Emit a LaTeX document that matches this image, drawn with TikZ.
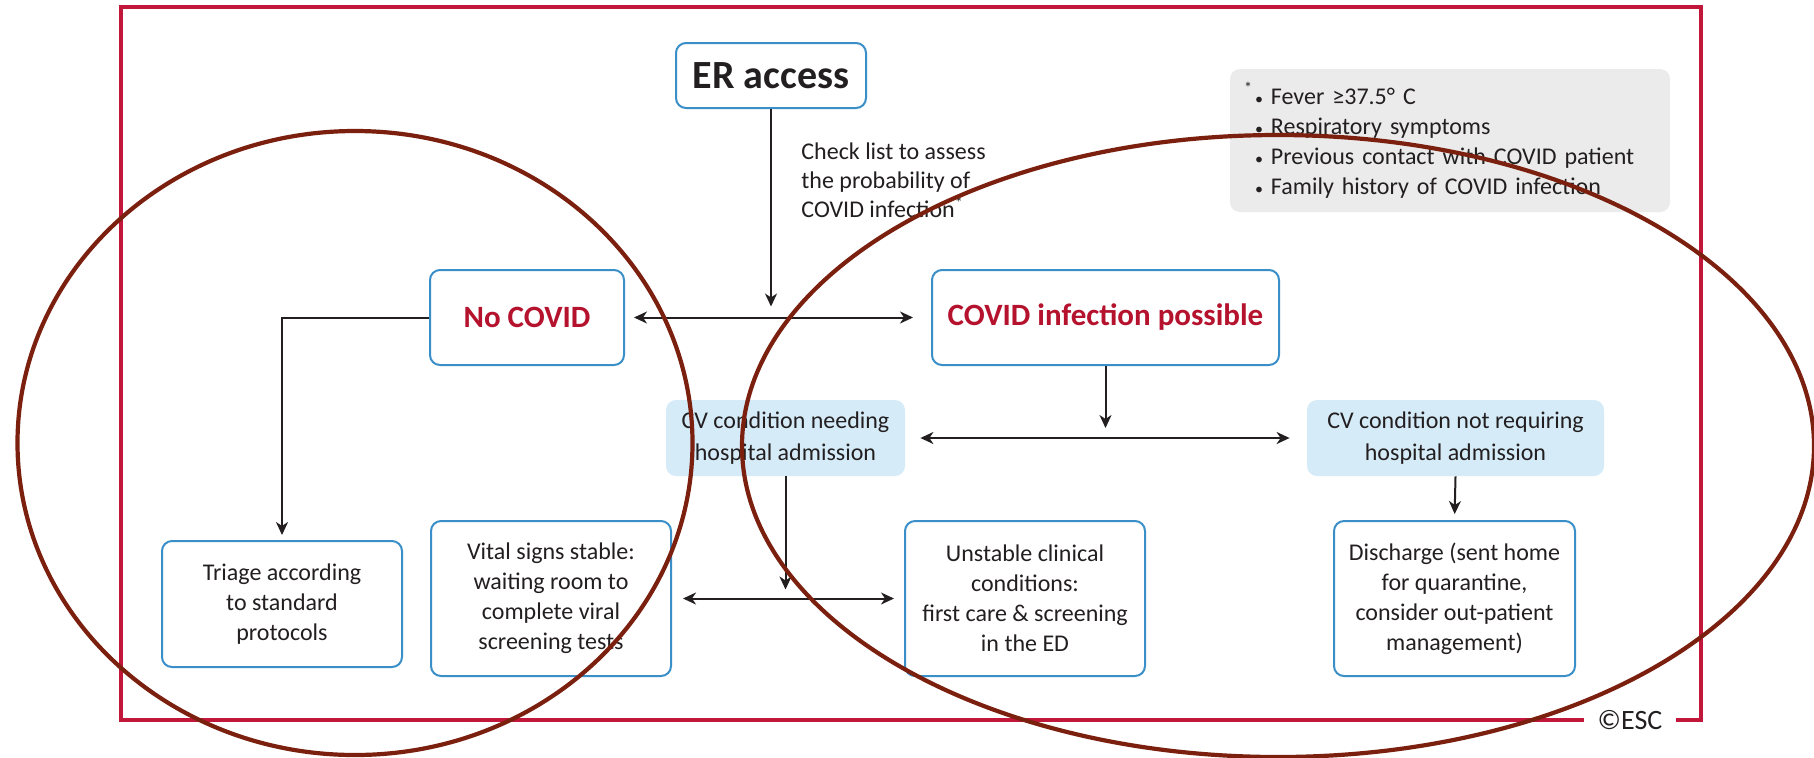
\documentclass[tikz,border=0pt]{standalone}
\usepackage{fontspec}
\setmainfont{Carlito}
\usetikzlibrary{arrows.meta}
\definecolor{framered}{HTML}{C0173A}
\definecolor{boxblue}{HTML}{3A8FC8}
\definecolor{cvblue}{HTML}{D5ECF8}
\definecolor{legendgray}{HTML}{EBEBEB}
\definecolor{titlered}{HTML}{B5122E}
\definecolor{txt}{HTML}{231F20}
\definecolor{ring}{HTML}{7B1F0E}
\begin{document}
\begin{tikzpicture}[x=0.5pt,y=-0.5pt,
  every node/.style={text=txt},
  bodyfont/.style={font=\fontsize{12}{15}\selectfont},
  box/.style={draw=boxblue, line width=1pt, rounded corners=5pt, fill=white, align=center, inner sep=0pt, bodyfont},
  cvbox/.style={fill=cvblue, rounded corners=5pt, align=center, inner sep=0pt, font=\fontsize{12}{16}\selectfont},
  titlebox/.style={draw=boxblue, line width=1pt, rounded corners=5pt, fill=white, inner sep=0pt, text=titlered, font=\fontsize{15.5}{18}\selectfont\bfseries},
  arr/.style={draw=txt, line width=1pt, -{Stealth[length=6.5pt,width=6pt,inset=2pt]}},
  darr/.style={draw=txt, line width=1pt, {Stealth[length=6.5pt,width=6pt,inset=2pt]}-{Stealth[length=6.5pt,width=6pt,inset=2pt]}},
  ringline/.style={draw=ring, line width=2.1pt}
]
\useasboundingbox (0,0) rectangle (1814,757);
\clip (0,0) rectangle (1814,757);
\fill[white] (0,0) rectangle (1814,757);

% frame
\draw[framered, line width=1.6pt] (121,7) rectangle (1701,720);
\node[fill=white, inner xsep=7pt, inner ysep=2pt, font=\fontsize{14}{16}\selectfont] (esc) at (1630,720) {©ESC};

% top
\node[draw=boxblue, line width=1pt, rounded corners=5pt, fill=white, minimum width=95pt, minimum height=32.5pt, inner sep=0pt, font=\fontsize{20}{22}\selectfont\bfseries] (er) at (771,75.5) {ER access};
\node[anchor=west, align=left, inner sep=0pt, font=\fontsize{12}{14.5}\selectfont] (check) at (801,180) {Check list to assess\\the probability of\\COVID infection\textsuperscript{*}};

\node[fill=legendgray, rounded corners=5pt, text width=206pt, inner xsep=7pt, minimum height=71.5pt, align=left, bodyfont] (legend) at (1450,140.5)
  {\makebox[5.5pt][l]{\raisebox{1pt}{\textsuperscript{*}}}{\footnotesize•} Fever ≥37.5° C\\
   \hspace*{5.5pt}{\footnotesize•} Respiratory symptoms\\
   \hspace*{5.5pt}{\footnotesize•} Previous contact with COVID patient\\
   \hspace*{5.5pt}{\footnotesize•} Family history of COVID infection};

% second row
\node[titlebox, minimum width=97pt, minimum height=47.5pt] (nocovid) at (527,317.5) {No COVID};
\node[titlebox, minimum width=173.5pt, minimum height=47.5pt] (covid) at (1105.5,317.5) {COVID infection possible};

% CV row
\node[cvbox, minimum width=119.5pt, minimum height=38pt] (cvneed) at (785.5,438) {CV condition needing\\hospital admission};
\node[cvbox, minimum width=148.5pt, minimum height=38pt] (cvnot) at (1455.5,438) {CV condition not requiring\\hospital admission};

% bottom row
\node[box, minimum width=120pt, minimum height=63pt] (triage) at (282,604) {Triage according\\to standard\\protocols};
\node[box, minimum width=120pt, minimum height=77.5pt] (vital) at (551,598.5) {Vital signs stable:\\waiting room to\\complete viral\\screening tests};
\node[box, minimum width=120pt, minimum height=77.5pt] (unstable) at (1025,598.5) {Unstable clinical\\conditions:\\first care \& screening\\in the ED};
\node[box, minimum width=120.5pt, minimum height=77.5pt] (discharge) at (1454.5,598.5) {Discharge (sent home\\for quarantine,\\consider out-patient\\management)};

% junctions
\coordinate (j1) at (771,317.5);
\coordinate (j3) at (785.5,598.5);

% connectors
\draw[arr, shorten >=5.5pt] (er.south) -- (j1);
\draw[darr, shorten <=4.5pt, shorten >=9pt] (nocovid.east) -- (covid.west);
\draw[arr, shorten >=2.5pt] (nocovid.west) -| (triage.north);
\draw[arr, shorten >=5pt] (covid.south) -- (covid.south |- cvneed.east);
\draw[darr, shorten <=7.5pt, shorten >=8.5pt] (cvneed.east) -- (cvnot.west);
\draw[arr, shorten >=4.5pt] (cvneed.south) -- (j3);
\draw[darr, shorten <=5.5pt, shorten >=5pt] (vital.east) -- (unstable.west);
\draw[arr, shorten >=3pt] (cvnot.south) -- (discharge.north);

% annotation rings
\draw[ringline] (355,443) ellipse [x radius=337.5, y radius=312];
\draw[ringline] (1278,446) ellipse [x radius=536, y radius=311];
\end{tikzpicture}
\end{document}
